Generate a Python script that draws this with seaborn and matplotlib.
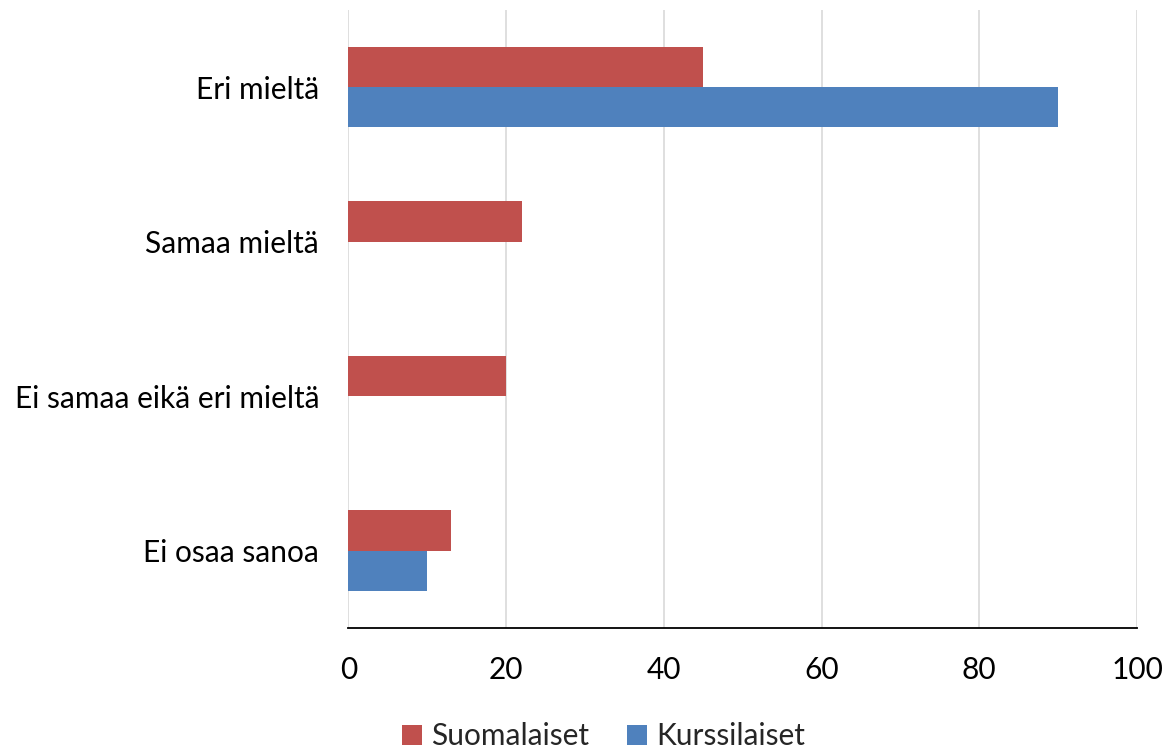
import matplotlib
matplotlib.use("Agg")
import matplotlib.pyplot as plt
import seaborn as sns
import pandas as pd

categories = ["Eri mieltä", "Samaa mieltä", "Ei samaa eikä eri mieltä", "Ei osaa sanoa"]
series_names = ["Suomalaiset", "Kurssilaiset"]
suomalaiset = [45, 22, 20, 13]
kurssilaiset = [90, 0, 0, 10]
x_ticks = [0, 20, 40, 60, 80, 100]

df = pd.DataFrame({
    "category": categories * 2,
    "series": [series_names[0]] * 4 + [series_names[1]] * 4,
    "value": suomalaiset + kurssilaiset,
})

sns.set_theme(style="white")
plt.rcParams["font.family"] = ["Lato", "DejaVu Sans"]

fig = plt.figure(figsize=(11.65, 7.51), dpi=100)
ax = fig.add_axes([0.299, 0.164, 0.677, 0.823])

palette = {"Suomalaiset": "#C0504D", "Kurssilaiset": "#4F81BD"}
sns.barplot(data=df, y="category", x="value", hue="series", order=categories,
            hue_order=series_names, palette=palette, orient="h", width=0.52,
            saturation=1, ax=ax, legend=True, linewidth=0, edgecolor="none")

ax.set_xlim(0, 100)
ax.set_ylim(3.5, -0.5)
ax.set_xticks(x_ticks)
ax.set_xticklabels([str(t) for t in x_ticks], fontsize=21.5, color="#000000")
ax.tick_params(axis="y", labelsize=21.5, colors="#000000", length=0, pad=21)
ax.tick_params(axis="x", length=0, pad=20)
ax.set_xlabel("")
ax.set_ylabel("")
ax.grid(axis="x", color="#D9D9D9", linewidth=1.2)
ax.set_axisbelow(True)
for s in ["top", "right", "left"]:
    ax.spines[s].set_visible(False)
ax.spines["bottom"].set_color("#000000")
ax.spines["bottom"].set_linewidth(1.3)

handles, labels = ax.get_legend_handles_labels()
ax.get_legend().remove()
fig.legend(handles, labels, loc="lower center", bbox_to_anchor=(0.518, -0.035),
           ncol=2, frameon=False, fontsize=21.5, handlelength=0.65, handleheight=0.65,
           handletextpad=0.3, columnspacing=1.3)

fig.savefig("out.png", dpi=100)
